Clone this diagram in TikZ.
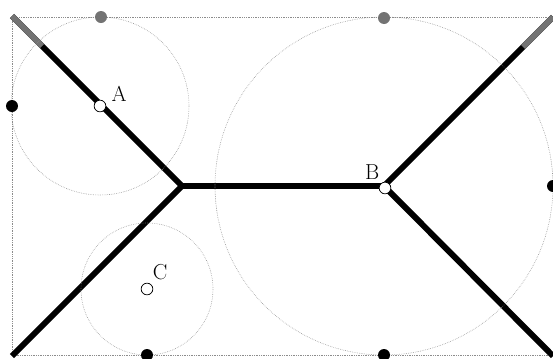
\documentclass[tikz,border=0pt]{standalone}
\usetikzlibrary{positioning}
\definecolor{ScanGray}{gray}{0.45}
\definecolor{GuideGray}{gray}{0.55}

\begin{document}
\begin{tikzpicture}[x=0.03cm,y=-0.03cm,font=\fontsize{18.5}{22}\selectfont,
    wire/.style={line width=5.1pt},
    guide/.style={GuideGray,densely dotted,line width=0.5pt},
    pin/.style={circle,draw,fill=white,inner sep=0pt,minimum size=10pt,line width=0.6pt},
    lbl/.style={inner sep=0pt}]
  \useasboundingbox (0,0) rectangle (553,358);
  \draw[guide] (12,17) rectangle (553,355);
  \coordinate (TL) at (12,16);
  \coordinate (BL) at (12,356);
  \coordinate (TR) at (553,17);
  \coordinate (BR) at (553,356);
  \coordinate (J1) at (182,186);
  \coordinate (J2) at (384,186);
  \coordinate (TLg) at (42,46);
  \coordinate (TRg) at (523,47);
  \draw[wire,line join=miter] (TL) -- (J1) -- (BL);
  \draw[wire] (J1) -- (J2);
  \draw[wire,line join=miter] (TR) -- (J2) -- (BR);
  \draw[wire,ScanGray] (TL) -- (TLg);
  \draw[wire,ScanGray] (TR) -- (TRg);
  \node[pin] (A) at (100,106) {};
  \node[pin] (B) at (385,188) {};
  \node[pin] (C) at (147,289) {};
  \node[lbl,above right=0pt and 6pt of A] (Alab) {A};
  \node[lbl,above left=3pt and 1pt of B] (Blab) {B};
  \node[lbl,above right=4pt and 1pt of C] (Clab) {C};
  \draw[guide] (A) circle (89);
  \draw[guide] (J2) circle (169);
  \draw[guide] (C) circle (66);
  \foreach \x/\y/\c in {12/106/black, 101/17/ScanGray, 384/18/ScanGray,
                        147/355/black, 384/355/black, 553/186/black} {
    \fill[\c] (\x,\y) circle (6);
  }
\end{tikzpicture}
\end{document}
